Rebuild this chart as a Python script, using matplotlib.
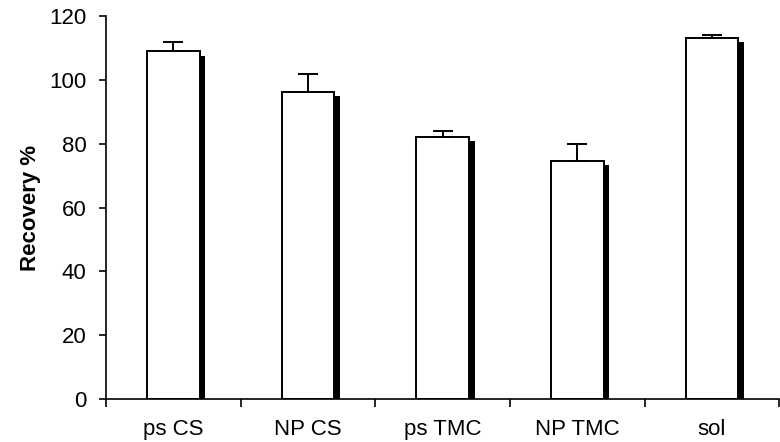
import matplotlib
matplotlib.use("Agg")
import matplotlib.pyplot as plt
import matplotlib.patheffects as pe
import numpy as np

plt.rcParams['font.family'] = ['Liberation Sans', 'DejaVu Sans']

# data
categories = ['ps CS', 'NP CS', 'ps TMC', 'NP TMC', 'sol']
recovery = [108.9, 96.3, 82.2, 74.7, 113.1]
errors = [3.0, 5.4, 1.8, 5.1, 1.0]

fig = plt.figure(figsize=(7.8, 4.42), dpi=100)
ax = fig.add_axes([0.136, 0.097, 0.863, 0.867])

x = np.arange(len(categories)) + 0.5

# white bars with black drop shadow on the right
bars = ax.bar(x, recovery, width=0.39, color='white', edgecolor='black', linewidth=1.4,
              zorder=2)
for b in bars:
    b.set_path_effects([pe.SimplePatchShadow(offset=(4.1, -3.1), shadow_rgbFace='black',
                                             alpha=1.0),
                        pe.Normal()])

# upper error bars only
ax.errorbar(x, recovery, yerr=[np.zeros(len(errors)), errors], fmt='none',
            ecolor='black', elinewidth=1.4, capsize=7, capthick=1.4, zorder=3)

ax.set_xlim(0, 5)
ax.set_ylim(0, 120)
ax.set_yticks(range(0, 121, 20))
ax.set_xticks(np.arange(0, 6), minor=False)
ax.set_xticklabels([])
ax.set_xticks(x, minor=True)
ax.set_xticklabels(categories, minor=True)
ax.tick_params(axis='x', which='major', direction='out', length=6, width=1.2)
ax.tick_params(axis='x', which='minor', length=0, pad=14, labelsize=16)
ax.tick_params(axis='y', direction='out', length=5, width=1.2, labelsize=16, pad=9)

ax.spines['top'].set_visible(False)
ax.spines['right'].set_visible(False)
ax.spines['left'].set_linewidth(1.2)
ax.spines['bottom'].set_linewidth(1.2)

ax.set_ylabel('Recovery %', fontsize=16, fontweight='bold', labelpad=6)

fig.savefig('out.png', dpi=100)
